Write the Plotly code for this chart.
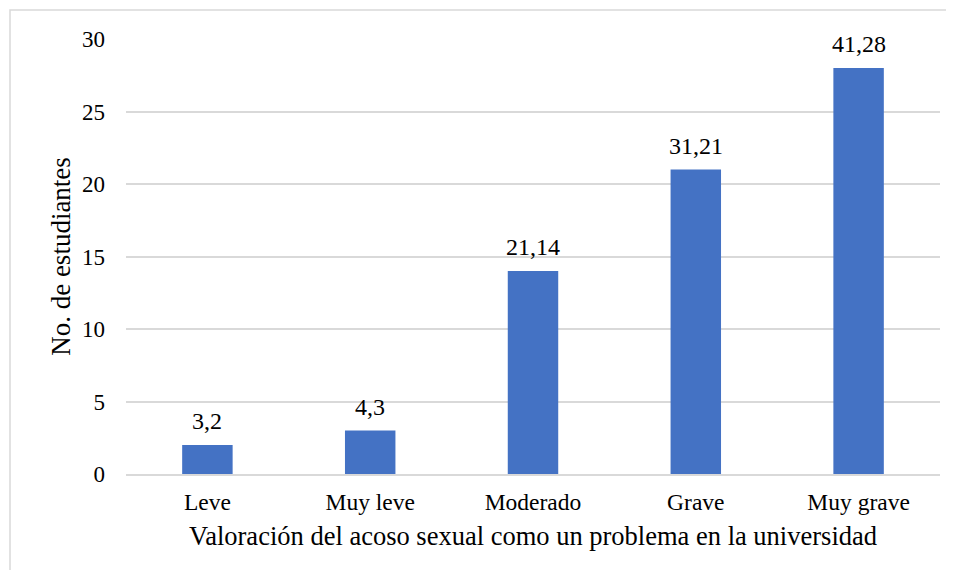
import plotly.graph_objects as go

categories = ["Leve", "Muy leve", "Moderado", "Grave", "Muy grave"]
values = [2, 3, 14, 21, 28]
labels = ["3,2", "4,3", "21,14", "31,21", "41,28"]
y_ticks = [0, 5, 10, 15, 20, 25, 30]

# page body has an 8px margin; figure sized so the page fits the window
OFF = 8
W, H = 938, 562
L, T = 126 - OFF, 39 - OFF
R = W - (940 - OFF)
B = H - (474 - OFF)
pw, ph = W - L - R, H - T - B

font = "Liberation Serif, Times New Roman, serif"

fig = go.Figure(go.Bar(
    x=categories, y=values,
    marker=dict(color="#4472C4", line=dict(width=0)),
    cliponaxis=False,
))

for c, v, t in zip(categories, values, labels):
    fig.add_annotation(x=c, y=v, text=t, showarrow=False, yanchor="bottom",
                       yshift=9, font=dict(size=24, color="#000000", family=font))

# outer chart border
bx0, by0, bx1, by1 = 10 - OFF, 10 - OFF, 960, 600
fig.add_shape(type="rect", xref="paper", yref="paper",
              x0=(bx0 - L) / pw, x1=(bx1 - L) / pw,
              y0=1 - (by1 - T) / ph, y1=1 - (by0 - T) / ph,
              line=dict(color="#d9d9d9", width=1.5), layer="below")

fig.update_layout(
    width=W, height=H,
    margin=dict(l=L, r=R, t=T, b=B),
    paper_bgcolor="white", plot_bgcolor="white",
    font=dict(family=font, color="#000000", size=23),
    bargap=0.69, showlegend=False,
    xaxis=dict(
        showgrid=False, showline=True, linecolor="#d9d9d9", linewidth=2,
        tickfont=dict(size=23.5), ticks="", ticklabelstandoff=6,
        title=dict(text="Valoración del acoso sexual como un problema en la universidad",
                   font=dict(size=26.5), standoff=12),
    ),
    yaxis=dict(
        range=[0, 30], tickvals=y_ticks, showgrid=True, gridcolor="#d9d9d9",
        gridwidth=1.5, zeroline=False, showline=False, ticks="",
        tickfont=dict(size=23), ticklabelstandoff=20,
        title=dict(text="No. de estudiantes", font=dict(size=27), standoff=3),
    ),
)

fig.write_html("out.html")
